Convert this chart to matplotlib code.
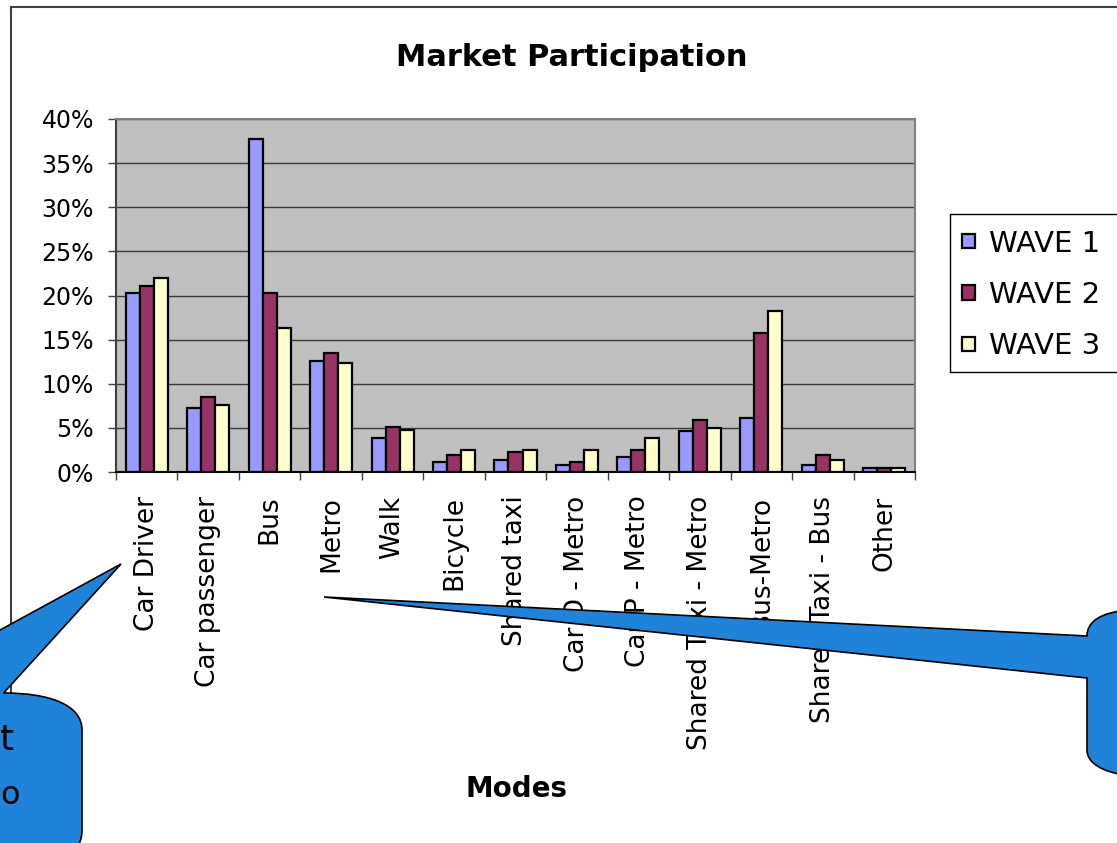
#Market participation by mode, three survey waves (Excel-style grouped bars).
import numpy as np
import matplotlib.pyplot as plt
from matplotlib.path import Path
from matplotlib.patches import PathPatch, Rectangle

modes = ['Car Driver', 'Car passenger', 'Bus', 'Metro', 'Walk', 'Bicycle',
         'Shared taxi', 'Car D - Metro', 'Car P - Metro', 'Shared Taxi - Metro',
         'Bus-Metro', 'Shared Taxi - Bus', 'Other']
wave1 = [20.3, 7.3, 37.7, 12.6, 3.9, 1.1, 1.4, 0.8, 1.65, 4.7, 6.15, 0.8, 0.5]
wave2 = [21.1, 8.45, 20.3, 13.5, 5.05, 1.9, 2.25, 1.15, 2.5, 5.85, 15.8, 1.95, 0.5]
wave3 = [22.0, 7.6, 16.3, 12.4, 4.75, 2.5, 2.5, 2.5, 3.9, 5.0, 18.3, 1.35, 0.5]
series = ['WAVE 1', 'WAVE 2', 'WAVE 3']
colors = ['#9999FF', '#993366', '#FFFFCC']
y_ticks = [0, 5, 10, 15, 20, 25, 30, 35, 40]

W, H = 1117, 843
fig = plt.figure(figsize=(W / 100, H / 100), dpi=100)

def fx(px):
    return px / W

def fy(py):
    return 1 - py / H

ax = fig.add_axes([fx(116), fy(472), fx(915) - fx(116), fy(119) - fy(472)])
ax.set_facecolor('#C0C0C0')

x = np.arange(len(modes))
w = 0.228
for i, (vals, name, col) in enumerate(zip([wave1, wave2, wave3], series, colors)):
    ax.bar(x + (i - 1) * w, vals, w, color=col, edgecolor='black', linewidth=1.6,
           label=name, zorder=3)

ax.set_xlim(-0.5, len(modes) - 0.5)
ax.set_ylim(0, 40)
ax.set_yticks(y_ticks)
ax.set_yticklabels([f'{t}%' for t in y_ticks], fontsize=17)
ax.yaxis.grid(True, color='#3a3a3a', linewidth=1.0, zorder=1)
ax.set_axisbelow(True)
ax.tick_params(axis='y', length=6, width=1, color='#404040', pad=10)

ax.set_xticks(x)
ax.set_xticklabels(modes, rotation=90, fontsize=19)
ax.set_xticks(np.arange(len(modes) + 1) - 0.5, minor=True)
ax.tick_params(axis='x', which='major', length=0, pad=17)
ax.tick_params(axis='x', which='minor', length=6, width=1, color='#404040')

for s in ['top', 'right']:
    ax.spines[s].set_color('#808080')
    ax.spines[s].set_linewidth(1.5)
ax.spines['left'].set_color('#404040')
ax.spines['left'].set_linewidth(1.5)
ax.spines['bottom'].set_color('black')
ax.spines['bottom'].set_linewidth(1.5)

fig.text(fx(572), fy(66), 'Market Participation', fontsize=22, fontweight='bold',
         ha='center', va='baseline')
fig.text(fx(516), fy(789), 'Modes', fontsize=20, fontweight='bold',
         ha='center', va='center')

# chart area border (cut off at right and bottom)
fig.patches.append(Rectangle((fx(11), fy(900)), fx(1200), fy(7) - fy(900),
                             transform=fig.transFigure, fill=False,
                             edgecolor='#404040', linewidth=1.5, zorder=0))

# legend box runs past the right edge, like the reference
fig.patches.append(Rectangle((fx(950), fy(372)), fx(200), fy(214) - fy(372),
                             transform=fig.transFigure, facecolor='white',
                             edgecolor='black', linewidth=1.0, zorder=1))
leg = fig.legend(loc='upper left', bbox_to_anchor=(fx(947), fy(215)),
                 fontsize=21, frameon=False, borderpad=0.5,
                 handlelength=0.45, handleheight=0.38, handletextpad=0.5,
                 labelspacing=0.8, borderaxespad=0)
leg.set_zorder(2)

# callouts
blue = '#1F83DA'
def callout(pts, codes):
    verts = [(fx(px), fy(py)) for px, py in pts]
    p = PathPatch(Path(verts, codes), transform=fig.transFigure, facecolor=blue,
                  edgecolor='black', linewidth=1.2, zorder=10)
    fig.patches.append(p)

M, L, C, Z = Path.MOVETO, Path.LINETO, Path.CURVE4, Path.CLOSEPOLY
callout([(121, 564), (3.6, 693), (50, 693), (82, 705), (82, 730),
         (82, 830), (82, 840), (78, 850), (70, 850), (-20, 850), (-20, 641),
         (121, 564), (121, 564)],
        [M, L, C, C, C, L, C, C, C, L, L, L, Z])
callout([(324, 597), (1087, 636), (1087, 622), (1100, 612), (1130, 610),
         (1130, 776), (1100, 772), (1087, 762), (1087, 750), (1087, 678),
         (324, 597), (324, 597)],
        [M, L, C, C, C, L, C, C, C, L, L, Z])

fig.text(fx(0), fy(750), 't', fontsize=26, ha='left', va='baseline', zorder=11)
fig.text(fx(0), fy(804), 'o', fontsize=23, ha='left', va='baseline', zorder=11)

plt.savefig('out.png', dpi=100)
